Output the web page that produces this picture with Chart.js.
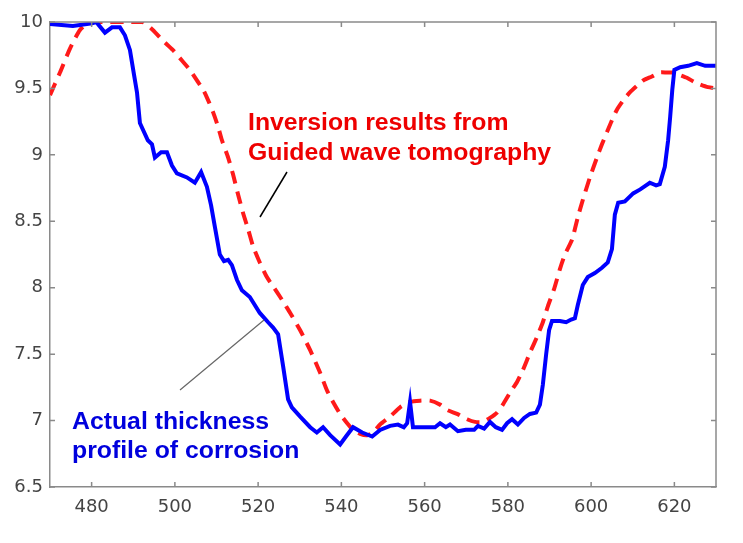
<!DOCTYPE html>
<html>
<head>
<meta charset="utf-8">
<script src="https://cdn.jsdelivr.net/npm/chart.js@4"></script>
<style>
  html, body { margin: 0; padding: 0; background: #fff; }
  #wrap { width: 743px; height: 543px; }
</style>
</head>
<body>
<div id="wrap"><canvas id="thicknessChart" width="743" height="543"></canvas></div>
<script>
// Actual thickness profile (blue, solid)
const actualX = [470.0, 475.5, 480.1, 481.1, 483.2, 484.9, 486.8, 488.0, 489.2, 490.2, 490.9, 491.6, 493.5, 494.5, 495.2, 496.7, 498.1, 499.3, 500.5, 502.9, 504.8, 506.3, 507.7, 508.7, 509.6, 510.8, 511.8, 512.8, 513.7, 514.9, 516.1, 518.0, 520.4, 522.4, 523.6, 524.8, 526.0, 527.2, 528.1, 530.1, 532.5, 534.1, 535.6, 537.3, 539.7, 541.1, 542.8, 545.0, 547.4, 549.3, 551.7, 553.6, 555.0, 555.8, 556.5, 557.2, 560.1, 562.5, 563.7, 565.1, 566.1, 568.0, 569.9, 571.9, 572.8, 574.3, 575.7, 577.1, 578.6, 579.8, 581.0, 582.4, 583.9, 585.3, 586.8, 587.7, 588.4, 589.2, 589.9, 590.6, 592.5, 594.0, 595.2, 596.1, 596.8, 598.0, 599.2, 600.9, 602.6, 604.0, 605.0, 605.7, 606.5, 608.1, 610.1, 611.8, 613.2, 614.1, 615.6, 616.5, 617.7, 618.5, 619.0, 619.5, 620.0, 621.4, 623.3, 625.4, 627.4, 630.0];
const actualY = [9.985, 9.97, 9.99, 10.0, 9.92, 9.96, 9.96, 9.90, 9.79, 9.60, 9.47, 9.24, 9.11, 9.08, 8.98, 9.02, 9.02, 8.92, 8.86, 8.83, 8.79, 8.87, 8.76, 8.62, 8.46, 8.25, 8.20, 8.21, 8.17, 8.06, 7.98, 7.93, 7.81, 7.74, 7.70, 7.65, 7.41, 7.16, 7.10, 7.03, 6.95, 6.91, 6.95, 6.89, 6.82, 6.88, 6.95, 6.91, 6.88, 6.93, 6.96, 6.97, 6.95, 6.98, 7.14, 6.95, 6.95, 6.95, 6.98, 6.95, 6.97, 6.92, 6.93, 6.93, 6.96, 6.94, 6.99, 6.95, 6.93, 6.98, 7.01, 6.97, 7.02, 7.05, 7.06, 7.12, 7.27, 7.50, 7.68, 7.75, 7.75, 7.74, 7.76, 7.77, 7.87, 8.02, 8.08, 8.11, 8.15, 8.19, 8.29, 8.55, 8.64, 8.65, 8.71, 8.74, 8.77, 8.79, 8.77, 8.78, 8.91, 9.11, 9.29, 9.49, 9.64, 9.66, 9.67, 9.69, 9.67, 9.67];

// Guided wave tomography inversion (red, dashed)
const inversionX = [470.0, 472.4, 474.8, 477.2, 479.6, 483.2, 488.0, 492.3, 494.7, 497.1, 499.5, 501.7, 503.6, 505.3, 506.8, 508.0, 509.2, 510.4, 511.3, 512.8, 514.0, 515.2, 516.4, 517.6, 518.8, 520.4, 522.1, 523.6, 525.3, 526.5, 527.7, 530.1, 532.5, 534.9, 536.5, 538.0, 539.7, 541.4, 542.8, 544.5, 546.2, 547.6, 549.3, 551.7, 554.1, 556.5, 558.9, 561.3, 563.7, 565.4, 567.8, 570.2, 572.1, 574.0, 575.7, 577.4, 578.8, 580.5, 582.2, 583.6, 585.3, 587.0, 588.4, 589.6, 591.1, 592.5, 593.7, 595.4, 596.8, 598.0, 599.7, 601.4, 602.6, 603.8, 605.0, 606.2, 607.7, 609.3, 611.0, 612.5, 614.6, 616.5, 618.2, 619.7, 621.4, 623.0, 624.7, 626.2, 628.1, 630.0];
const inversionY = [9.45, 9.62, 9.80, 9.94, 10.0, 10.0, 10.0, 10.0, 9.94, 9.86, 9.79, 9.71, 9.64, 9.56, 9.49, 9.41, 9.32, 9.21, 9.11, 8.98, 8.85, 8.70, 8.56, 8.44, 8.31, 8.19, 8.08, 8.01, 7.93, 7.87, 7.81, 7.68, 7.53, 7.36, 7.23, 7.14, 7.05, 6.98, 6.93, 6.90, 6.89, 6.91, 6.97, 7.03, 7.10, 7.14, 7.15, 7.15, 7.12, 7.08, 7.05, 7.01, 6.99, 6.99, 7.02, 7.06, 7.12, 7.21, 7.29, 7.38, 7.51, 7.63, 7.74, 7.86, 7.99, 8.14, 8.25, 8.36, 8.53, 8.66, 8.83, 8.98, 9.08, 9.17, 9.26, 9.34, 9.41, 9.47, 9.52, 9.56, 9.59, 9.62, 9.62, 9.62, 9.60, 9.58, 9.55, 9.53, 9.51, 9.50];

// Tick labels
const xTickVals = [480, 500, 520, 540, 560, 580, 600, 620];
const yTickVals = [6.5, 7, 7.5, 8, 8.5, 9, 9.5, 10];

const toPoints = (xs, ys) => xs.map((x, i) => ({ x: x, y: ys[i] }));

// Cadre fermé + graduations vers l'intérieur (style MATLAB)
const frameTicks = {
    id: 'frameTicks',
    afterDatasetsDraw(chart) {
        const { ctx, chartArea: a, scales } = chart;
        ctx.save();
        ctx.strokeStyle = '#8a8a8a';
        ctx.lineWidth = 1.5;
        ctx.beginPath();
        ctx.moveTo(a.left, a.top);
        ctx.lineTo(a.right, a.top);
        ctx.lineTo(a.right, a.bottom);
        ctx.stroke();
        const len = 5;
        ctx.beginPath();
        xTickVals.forEach(v => {
            const px = scales.x.getPixelForValue(v);
            ctx.moveTo(px, a.bottom); ctx.lineTo(px, a.bottom - len);
            ctx.moveTo(px, a.top); ctx.lineTo(px, a.top + len);
        });
        yTickVals.forEach(v => {
            const py = scales.y.getPixelForValue(v);
            ctx.moveTo(a.left, py); ctx.lineTo(a.left + len, py);
            ctx.moveTo(a.right, py); ctx.lineTo(a.right - len, py);
        });
        ctx.stroke();
        ctx.restore();
    }
};

// Annotations texte + traits de rappel
const annotations = {
    id: 'annotations',
    afterDraw(chart) {
        const ctx = chart.ctx;
        ctx.save();
        ctx.lineWidth = 1.5;
        ctx.strokeStyle = '#000';
        ctx.beginPath();
        ctx.moveTo(287, 172);
        ctx.lineTo(260, 217);
        ctx.stroke();
        ctx.strokeStyle = '#666';
        ctx.lineWidth = 1.2;
        ctx.beginPath();
        ctx.moveTo(180, 390);
        ctx.lineTo(264, 320);
        ctx.stroke();

        ctx.font = 'bold 24.8px "Liberation Sans", Arial, sans-serif';
        ctx.textAlign = 'left';
        ctx.textBaseline = 'alphabetic';
        ctx.fillStyle = '#ee0000';
        ctx.fillText('Inversion results from', 248, 130);
        ctx.fillText('Guided wave tomography', 248, 160);
        ctx.fillStyle = '#0000dd';
        ctx.fillText('Actual thickness', 72, 429);
        ctx.fillText('profile of corrosion', 72, 458);
        ctx.restore();
    }
};

new Chart(document.getElementById('thicknessChart'), {
    type: 'line',
    data: {
        datasets: [{
            label: 'Actual thickness',
            data: toPoints(actualX, actualY),
            borderColor: '#0000ff',
            borderWidth: 4,
            pointRadius: 0,
            tension: 0,
            fill: false
        }, {
            label: 'Inversion',
            data: toPoints(inversionX, inversionY),
            borderColor: '#ff1a1a',
            borderWidth: 4,
            borderDash: [13, 8],
            pointRadius: 0,
            tension: 0.2,
            fill: false
        }]
    },
    options: {
        responsive: false,
        animation: false,
        devicePixelRatio: 1,
        layout: { padding: { top: 22, right: 27, left: 0, bottom: 0 } },
        plugins: {
            legend: { display: false },
            tooltip: { enabled: false }
        },
        scales: {
            x: {
                type: 'linear',
                min: 470,
                max: 630,
                afterBuildTicks: s => { s.ticks = xTickVals.map(v => ({ value: v })); },
                afterFit: s => { s.height = 56; },
                grid: { drawOnChartArea: false, drawTicks: false },
                border: { color: '#8a8a8a', width: 1.5 },
                ticks: {
                    padding: 10,
                    color: '#444',
                    font: { family: '"DejaVu Sans", sans-serif', size: 18 },
                    callback: v => String(v)
                }
            },
            y: {
                min: 6.5,
                max: 10,
                afterBuildTicks: s => { s.ticks = yTickVals.map(v => ({ value: v })); },
                afterFit: s => { s.width = 50; },
                grid: { drawOnChartArea: false, drawTicks: false },
                border: { color: '#8a8a8a', width: 1.5 },
                ticks: {
                    padding: 7,
                    color: '#444',
                    font: { family: '"DejaVu Sans", sans-serif', size: 18 },
                    callback: v => String(v)
                }
            }
        }
    },
    plugins: [frameTicks, annotations]
});
</script>
</body>
</html>
